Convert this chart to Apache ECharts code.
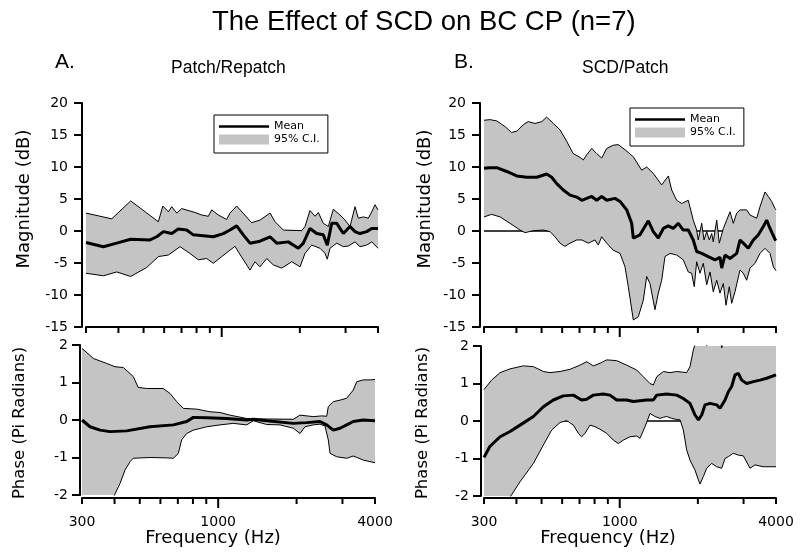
<!DOCTYPE html>
<html><head><meta charset="utf-8">
<script src="https://cdn.jsdelivr.net/npm/echarts@6/dist/echarts.min.js"></script>
<style>html,body{margin:0;padding:0;background:#fff}#chart{width:800px;height:555px}</style>
</head><body><div id="chart"></div>
<script>
// ---- tick values (Hz) ----
const freqTicks = [300,400,500,600,700,800,900,1000,2000,3000,4000];
const majorTick = 1000;

// ---- Panel A: Patch/Repatch, magnitude (dB) ----
const magA_upper = [[300,2.8],[377,1.9],[446,4.7],[570,1.45],[593,3.9],[623,3.0],[642,3.8],[671,2.8],[701,3.5],[789,2.9],[837,2.5],[888,2.3],[915,3.3],[970,2.5],[1045,1.8],[1076,2.8],[1142,3.9],[1304,1.3],[1404,1.7],[1535,2.8],[1605,1.45],[1727,0.15],[2033,0.05],[2093,0.7],[2188,3.2],[2288,2.3],[2356,2.9],[2462,1.2],[2574,0.7],[2691,3.4],[2856,2.5],[2986,1.7],[3121,0.7],[3262,3.8],[3359,2.0],[3512,2.2],[3671,2.0],[3784,3.0],[3895,4.1],[4000,3.3]];
const magA_lower = [[300,-6.6],[350,-7.0],[394,-6.4],[446,-7.1],[514,-5.7],[570,-4.0],[623,-3.75],[691,-2.45],[754,-3.5],[812,-4.5],[875,-4.3],[928,-5.05],[1000,-4.0],[1076,-3.0],[1125,-2.4],[1160,-3.3],[1285,-6.1],[1343,-4.8],[1404,-5.6],[1491,-4.3],[1580,-5.3],[1703,-5.8],[1861,-4.8],[2003,-5.6],[2093,-3.5],[2221,-2.2],[2391,-2.7],[2500,-3.5],[2551,-4.4],[2613,-2.7],[2774,-1.9],[2941,-2.45],[3074,-2.35],[3262,-1.7],[3410,-2.45],[3618,-2.2],[3784,-1.7],[4000,-2.7]];
const magA_mean = [[300,-1.8],[350,-2.45],[394,-1.9],[446,-1.3],[529,-1.4],[562,-0.9],[596,-0.1],[642,-0.4],[680,0.3],[733,0.15],[777,-0.6],[928,-0.9],[1014,-0.4],[1076,0.15],[1142,0.8],[1211,-0.6],[1285,-1.9],[1404,-1.6],[1535,-0.9],[1629,-1.9],[1805,-1.7],[1973,-2.7],[2063,-1.9],[2188,0.4],[2322,-0.4],[2462,-0.6],[2551,-2.2],[2653,1.2],[2774,1.2],[2941,-0.4],[3121,0.7],[3262,-0.1],[3410,-0.4],[3618,-0.1],[3784,0.4],[4000,0.4]];

// ---- Panel A: phase (Pi radians) ----
const phaseA_upper = [[300,1.91],[332,1.64],[373,1.51],[402,1.42],[432,1.40],[472,1.16],[493,0.87],[532,0.84],[615,0.84],[653,0.71],[693,0.49],[735,0.31],[827,0.29],[930,0.22],[1016,0.2],[1110,0.13],[1287,0.04],[1406,0.03],[1943,0.02],[2061,0.13],[2319,0.09],[2497,0.11],[2610,0.1],[2647,0.36],[2767,0.49],[2936,0.53],[3114,0.58],[3302,0.8],[3402,1.02],[3608,1.07],[3829,1.07],[4000,1.08]];
const phaseA_lower = [[300,-2.8],[380,-2.3],[402,-1.97],[420,-1.69],[439,-1.33],[459,-1.11],[472,-1.02],[547,-1.0],[634,-1.01],[673,-1.02],[703,-0.89],[724,-0.53],[757,-0.36],[803,-0.27],[904,-0.18],[1016,-0.13],[1143,-0.09],[1287,-0.13],[1364,-0.02],[1536,-0.12],[1727,-0.13],[1943,-0.22],[2061,-0.36],[2154,-0.18],[2319,-0.13],[2460,-0.11],[2571,-0.16],[2647,-0.53],[2688,-0.89],[2852,-0.98],[3114,-1.02],[3302,-0.96],[3608,-1.07],[3829,-1.11],[4000,-1.14]];
const phaseA_mean = [[300,0],[322,-0.18],[352,-0.27],[384,-0.31],[445,-0.29],[547,-0.18],[673,-0.13],[757,-0.04],[803,0.07],[904,0.06],[1078,0.04],[1287,0],[1364,0.02],[1536,-0.02],[1943,-0.09],[2187,-0.07],[2460,-0.04],[2610,-0.13],[2767,-0.27],[2936,-0.22],[3114,-0.13],[3302,-0.04],[3608,0],[4000,-0.02]];

// ---- Panel B: SCD/Patch, magnitude (dB) ----
const magB_upper = [[300,17.3],[316,17.4],[336,17.2],[362,16.3],[383,15.4],[401,15.6],[425,16.6],[444,17.1],[472,16.8],[501,17.1],[523,17.8],[555,16.8],[589,15.8],[625,14.0],[662,12.1],[703,11.5],[724,11.1],[746,11.9],[780,12.9],[815,12.1],[852,11.4],[891,12.9],[944,13.4],[987,13.5],[1048,12.7],[1128,11.6],[1215,9.5],[1270,10.0],[1347,9.0],[1451,7.2],[1539,8.6],[1586,6.4],[1657,4.8],[1733,4.3],[1837,4.8],[1920,1.7],[1979,0.15],[2007,-1.4],[2069,1.2],[2112,-1.4],[2163,-0.1],[2214,-1.4],[2261,-0.4],[2293,-1.7],[2364,1.7],[2419,-1.9],[2507,0.4],[2583,1.7],[2660,3.0],[2739,1.2],[2823,2.8],[2907,3.3],[3084,3.3],[3176,2.5],[3370,2.0],[3471,3.8],[3628,6.1],[3735,5.4],[3851,4.6],[3965,3.5],[4000,3.3]];
const magB_lower = [[300,2.2],[321,2.6],[346,2.2],[378,1.2],[413,0.15],[432,-0.26],[464,0.05],[508,0.15],[539,-0.1],[563,-0.9],[589,-1.9],[615,-2.4],[644,-1.9],[683,-1.4],[714,-1.4],[757,-1.9],[803,-1.4],[827,-2.2],[852,-0.9],[891,-1.9],[944,-3.0],[1003,-3.5],[1048,-5.6],[1079,-8.7],[1128,-13.9],[1179,-13.4],[1233,-10.8],[1270,-7.1],[1308,-8.2],[1367,-12.3],[1408,-9.7],[1451,-7.7],[1494,-4.0],[1562,-3.5],[1657,-3.75],[1757,-4.5],[1837,-6.4],[1893,-6.6],[1937,-8.7],[1979,-4.8],[2038,-6.6],[2099,-5.05],[2163,-8.4],[2228,-6.4],[2293,-9.5],[2364,-7.7],[2434,-9.7],[2507,-8.2],[2567,-11.6],[2643,-8.7],[2700,-11.3],[2780,-9.5],[2907,-6.1],[2993,-6.6],[3084,-7.7],[3176,-5.8],[3320,-5.05],[3471,-3.5],[3628,-2.7],[3793,-3.5],[3907,-5.6],[4000,-6.2]];
const magB_mean = [[300,9.8],[316,9.9],[336,9.9],[367,9.3],[401,8.6],[438,8.4],[479,8.4],[523,8.9],[547,8.4],[572,7.4],[606,6.4],[644,5.6],[683,5.3],[714,4.8],[746,5.1],[780,5.4],[815,4.8],[852,5.4],[891,4.8],[959,5.1],[1003,4.6],[1064,3.3],[1112,1.2],[1128,-1.1],[1197,-0.6],[1289,1.6],[1347,-0.1],[1408,-1.1],[1472,0.4],[1539,0.8],[1608,0.4],[1681,1.2],[1757,0.15],[1837,0.15],[1920,-1.4],[1979,-3.2],[2069,-3.5],[2194,-4.0],[2329,-4.5],[2434,-4.1],[2471,-5.8],[2545,-3.75],[2660,-4.3],[2823,-3.5],[2907,-1.4],[2993,-1.9],[3128,-2.7],[3271,-1.4],[3420,-0.6],[3575,0.7],[3683,1.7],[3793,0.4],[3965,-1.3],[4000,-1.5]];

// ---- Panel B: phase (Pi radians) ----
const phaseB_upper = [[300,0.84],[321,1.09],[346,1.29],[378,1.39],[425,1.47],[465,1.45],[508,1.32],[539,1.29],[589,1.32],[644,1.38],[703,1.49],[746,1.58],[791,1.47],[840,1.54],[891,1.63],[973,1.61],[1064,1.49],[1162,1.36],[1233,1.18],[1308,1.0],[1348,0.96],[1388,1.18],[1473,1.32],[1562,1.29],[1658,1.32],[1811,1.29],[1865,1.45],[1921,1.89],[1979,2.2],[2100,2.3],[2163,2.0],[2228,2.3],[2435,2.2],[2471,1.95],[2545,2.3],[4000,2.5]];
const phaseB_lower = [[300,-3.0],[346,-2.4],[383,-1.97],[413,-1.62],[465,-1.13],[508,-0.64],[547,-0.24],[589,-0.04],[625,0.01],[663,-0.11],[693,-0.33],[713,-0.42],[735,-0.33],[768,-0.11],[803,-0.15],[840,-0.22],[891,-0.33],[945,-0.51],[988,-0.6],[1033,-0.51],[1096,-0.42],[1162,-0.4],[1197,-0.46],[1252,-0.15],[1308,0.2],[1368,0.12],[1430,0.07],[1473,0.1],[1517,0.12],[1586,0.07],[1658,0.04],[1708,0.03],[1758,-0.24],[1811,-0.77],[1865,-1.04],[1950,-1.31],[2009,-1.57],[2039,-1.68],[2100,-1.48],[2163,-1.26],[2261,-1.13],[2364,-1.22],[2471,-1.26],[2545,-1.0],[2621,-0.95],[2740,-0.86],[2864,-0.91],[2995,-0.93],[3176,-1.26],[3320,-1.17],[3575,-1.22],[3794,-1.22],[4000,-1.22]];
const phaseB_mean = [[300,-0.97],[316,-0.68],[346,-0.42],[378,-0.28],[413,-0.11],[465,0.12],[508,0.38],[555,0.56],[606,0.67],[663,0.69],[713,0.56],[746,0.58],[791,0.69],[865,0.72],[917,0.69],[973,0.56],[1064,0.56],[1129,0.52],[1197,0.54],[1270,0.56],[1348,0.56],[1388,0.69],[1517,0.72],[1658,0.69],[1758,0.6],[1865,0.47],[1950,0.16],[2009,0.03],[2069,0.16],[2131,0.43],[2228,0.47],[2364,0.43],[2435,0.34],[2545,0.56],[2621,0.78],[2700,0.92],[2781,1.23],[2864,1.27],[2950,1.09],[3084,1.0],[3272,1.05],[3470,1.09],[3683,1.14],[4000,1.23]];

const panels = [
  {upper: magA_upper, lower: magA_lower, mean: magA_mean, kind: 'mag'},
  {upper: phaseA_upper, lower: phaseA_lower, mean: phaseA_mean, kind: 'phase'},
  {upper: magB_upper, lower: magB_lower, mean: magB_mean, kind: 'mag'},
  {upper: phaseB_upper, lower: phaseB_lower, mean: phaseB_mean, kind: 'phase'}
];

// ---- layout / styles ----
const BAND = '#c4c4c4';
const FONT = 'DejaVu Sans';
const TFONT = 'Liberation Sans';
const grids = [
  {left: 86, top: 103, width: 292, height: 224},
  {left: 82, top: 345, width: 293, height: 150},
  {left: 484, top: 103, width: 292, height: 224},
  {left: 484, top: 346, width: 292, height: 150}
];
const xOffset = [0, 3, 0, 2];
const yOffset = [4, 2, 4, 3];

function clipHalf(pts, inside, yLine) {
  const out = [];
  for (let i = 0; i < pts.length; i++) {
    const a = pts[i], b = pts[(i + 1) % pts.length];
    const ia = inside(a), ib = inside(b);
    if (ia) out.push(a);
    if (ia !== ib) {
      const t = (yLine - a[1]) / (b[1] - a[1]);
      out.push([a[0] + t * (b[0] - a[0]), yLine]);
    }
  }
  return out;
}

const series = [];
panels.forEach((p, gi) => {
  const isMag = p.kind === 'mag';
  const yMin = isMag ? -15 : -2;
  // zero reference line (under band)
  series.push({type: 'line', xAxisIndex: gi, yAxisIndex: gi, data: [[300, 0], [4000, 0]],
    symbol: 'none', lineStyle: {color: '#000', width: 1.3}, z: 1, silent: true});
  // confidence band
  series.push({type: 'custom', name: '95% C.I.', xAxisIndex: gi, yAxisIndex: gi, z: 2, silent: true, clip: false,
    itemStyle: {color: BAND},
    data: [p.upper[0]],
    renderItem: (params, api) => {
      const cs = params.coordSys;
      let pts = p.upper.map(d => api.coord(d)).concat(p.lower.slice().reverse().map(d => api.coord(d)));
      pts = clipHalf(pts, q => q[1] >= cs.y, cs.y);
      pts = clipHalf(pts, q => q[1] <= cs.y + cs.height, cs.y + cs.height);
      return {type: 'polygon', shape: {points: pts}, style: {fill: BAND, stroke: null}};
    }});
  // band edges
  [p.upper, p.lower].forEach(edge => {
    series.push({type: 'line', xAxisIndex: gi, yAxisIndex: gi, data: edge, symbol: 'none',
      lineStyle: {color: '#000', width: 1}, z: 3, silent: true});
  });
  // mean
  series.push({type: 'line', name: 'Mean', xAxisIndex: gi, yAxisIndex: gi, data: p.mean, symbol: 'none',
    itemStyle: {color: '#000'}, lineStyle: {color: '#000', width: 3}, z: 4, silent: true});
  // x-axis tick marks (log positions from the axis scale)
  series.push({type: 'custom', xAxisIndex: gi, yAxisIndex: gi, z: 5, silent: true, clip: false,
    data: freqTicks.map(f => [f, yMin]),
    renderItem: (params, api) => {
      const f = api.value(0);
      const c = api.coord([f, api.value(1)]);
      const y0 = c[1] + xOffset[gi];
      const len = f === majorTick ? 10 : 6;
      return {type: 'line', shape: {x1: c[0], y1: y0, x2: c[0], y2: y0 + len},
        style: {stroke: '#000', lineWidth: 2}};
    }});
});

const xAxes = grids.map((g, gi) => {
  const isPhase = panels[gi].kind === 'phase';
  return {type: 'log', logBase: 10, gridIndex: gi, min: 300, max: 4000, offset: xOffset[gi],
    axisLine: {show: true, onZero: false, lineStyle: {color: '#000', width: 2}},
    axisTick: {show: false}, minorTick: {show: false}, splitLine: {show: false}, minorSplitLine: {show: false},
    axisLabel: {show: isPhase, formatter: v => String(Math.round(v)), fontSize: 14, fontFamily: FONT, color: '#000', margin: 17}
  };
});
const yAxes = grids.map((g, gi) => {
  const isMag = panels[gi].kind === 'mag';
  return {type: 'value', gridIndex: gi, min: isMag ? -15 : -2, max: isMag ? 20 : 2, interval: isMag ? 5 : 1,
    offset: yOffset[gi],
    axisLine: {show: true, onZero: false, lineStyle: {color: '#000', width: 2}},
    axisTick: {show: true, length: 8, lineStyle: {color: '#000', width: 2}},
    splitLine: {show: false},
    axisLabel: {fontSize: 14, fontFamily: FONT, color: '#000', margin: isMag ? 14 : 12}
  };
});

// axis titles (placed to match the reference)
const axisTitles = [
  {text: 'Magnitude (dB)', x: 24, y: 199, size: 18, rot: true},
  {text: 'Magnitude (dB)', x: 425, y: 199, size: 18, rot: true},
  {text: 'Phase (Pi Radians)', x: 20, y: 423, size: 16.5, rot: true},
  {text: 'Phase (Pi Radians)', x: 423, y: 423, size: 16.5, rot: true},
  {text: 'Frequency (Hz)', x: 213, y: 538, size: 18, rot: false},
  {text: 'Frequency (Hz)', x: 608, y: 538, size: 18, rot: false}
];

const legendCommon = {
  data: [{name: 'Mean', icon: 'path://M0,0L100,0L100,5L0,5Z'}, {name: '95% C.I.', icon: 'rect'}],
  orient: 'vertical', padding: [6, 8, 8, 5], itemGap: 2, itemWidth: 50, itemHeight: 10,
  borderColor: '#000', borderWidth: 1, borderRadius: 0, backgroundColor: '#fff',
  selectedMode: false,
  textStyle: {fontSize: 11, fontFamily: FONT, color: '#000'}
};

const tStyle = (size) => ({fontSize: size, fontWeight: 'normal', fontFamily: TFONT, color: '#000'});
const option = {
  animation: false,
  backgroundColor: '#fff',
  title: [
    {text: 'The Effect of SCD on BC CP (n=7)', left: 212, top: 8, padding: 0, textStyle: tStyle(27.5)},
    {text: 'A.', left: 55, top: 52, padding: 0, textStyle: tStyle(21)},
    {text: 'Patch/Repatch', left: 171, top: 59, padding: 0, textStyle: tStyle(17.5)},
    {text: 'B.', left: 454, top: 52, padding: 0, textStyle: tStyle(21)},
    {text: 'SCD/Patch', left: 582, top: 59, padding: 0, textStyle: tStyle(17.5)}
  ],
  legend: [
    Object.assign({left: 214, top: 115}, legendCommon),
    Object.assign({left: 630, top: 108}, legendCommon)
  ],
  graphic: axisTitles.map(t => ({
    type: 'text', x: t.x, y: t.y, rotation: t.rot ? Math.PI / 2 : 0, silent: true,
    style: {text: t.text, fontSize: t.size, fontFamily: FONT, fill: '#000', align: 'center', verticalAlign: 'middle'}
  })),
  grid: grids.map(g => Object.assign({containLabel: false, outerBoundsMode: 'none'}, g)),
  xAxis: xAxes,
  yAxis: yAxes,
  series: series
};

const chart = echarts.init(document.getElementById('chart'), null, {renderer: 'canvas'});
chart.setOption(option);
</script>
</body></html>
